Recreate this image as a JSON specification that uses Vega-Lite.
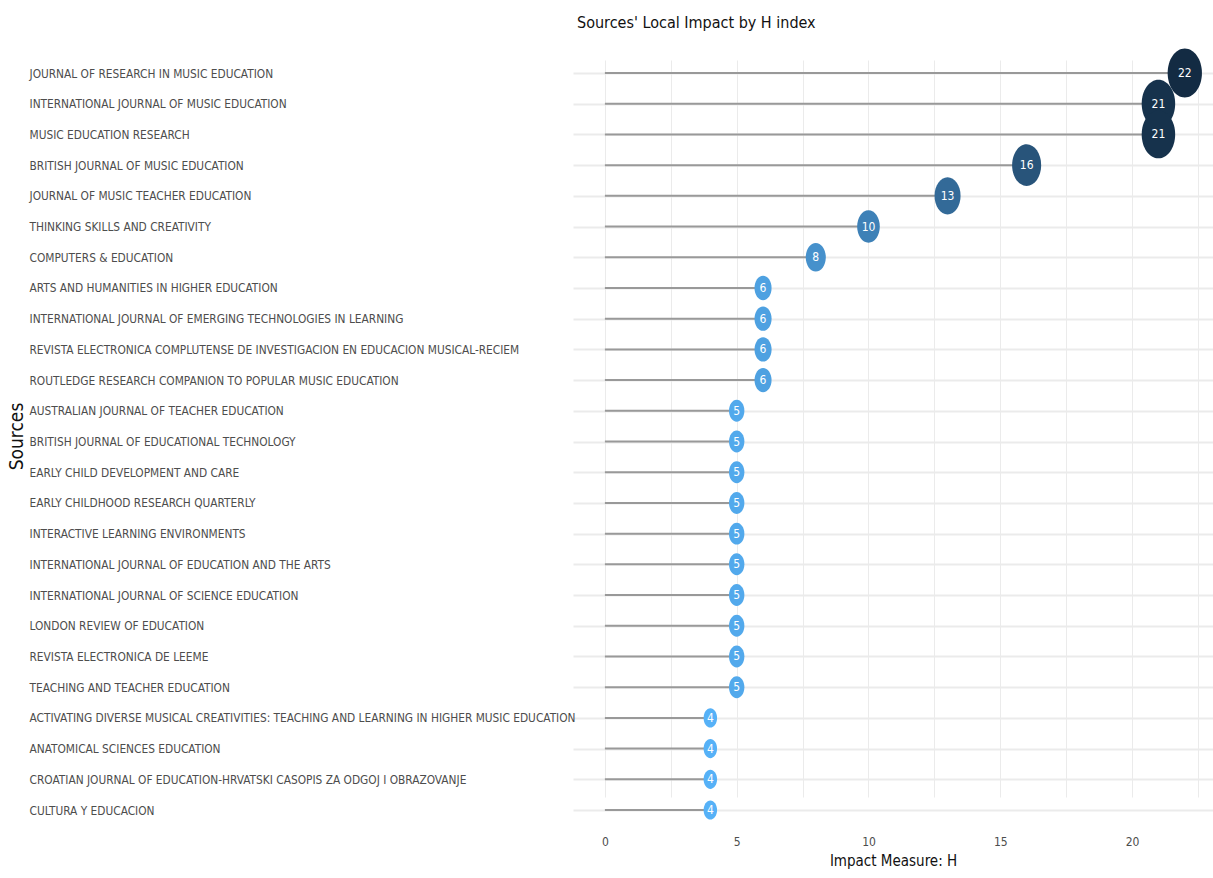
{
  "$schema": "https://vega.github.io/schema/vega-lite/v6.json",
  "autosize": "none",
  "width": 640,
  "height": 786,
  "padding": {"left": 573, "top": 42, "right": 0, "bottom": 50},
  "background": "white",
  "title": {
    "text": "Sources' Local Impact by H index",
    "anchor": "start",
    "frame": "group",
    "font": "Liberation Sans Narrow, DejaVu Sans Condensed, sans-serif",
    "fontSize": 16,
    "fontWeight": "normal",
    "color": "#111111",
    "offset": 11,
    "dx": 4
  },
  "config": {
    "view": {"stroke": null},
    "font": "Liberation Sans Narrow, DejaVu Sans Condensed, sans-serif"
  },
  "data": {
    "values": [
      {"source": "JOURNAL OF RESEARCH IN MUSIC EDUCATION", "h": 22},
      {"source": "INTERNATIONAL JOURNAL OF MUSIC EDUCATION", "h": 21},
      {"source": "MUSIC EDUCATION RESEARCH", "h": 21},
      {"source": "BRITISH JOURNAL OF MUSIC EDUCATION", "h": 16},
      {"source": "JOURNAL OF MUSIC TEACHER EDUCATION", "h": 13},
      {"source": "THINKING SKILLS AND CREATIVITY", "h": 10},
      {"source": "COMPUTERS & EDUCATION", "h": 8},
      {"source": "ARTS AND HUMANITIES IN HIGHER EDUCATION", "h": 6},
      {"source": "INTERNATIONAL JOURNAL OF EMERGING TECHNOLOGIES IN LEARNING", "h": 6},
      {"source": "REVISTA ELECTRONICA COMPLUTENSE DE INVESTIGACION EN EDUCACION MUSICAL-RECIEM", "h": 6},
      {"source": "ROUTLEDGE RESEARCH COMPANION TO POPULAR MUSIC EDUCATION", "h": 6},
      {"source": "AUSTRALIAN JOURNAL OF TEACHER EDUCATION", "h": 5},
      {"source": "BRITISH JOURNAL OF EDUCATIONAL TECHNOLOGY", "h": 5},
      {"source": "EARLY CHILD DEVELOPMENT AND CARE", "h": 5},
      {"source": "EARLY CHILDHOOD RESEARCH QUARTERLY", "h": 5},
      {"source": "INTERACTIVE LEARNING ENVIRONMENTS", "h": 5},
      {"source": "INTERNATIONAL JOURNAL OF EDUCATION AND THE ARTS", "h": 5},
      {"source": "INTERNATIONAL JOURNAL OF SCIENCE EDUCATION", "h": 5},
      {"source": "LONDON REVIEW OF EDUCATION", "h": 5},
      {"source": "REVISTA ELECTRONICA DE LEEME", "h": 5},
      {"source": "TEACHING AND TEACHER EDUCATION", "h": 5},
      {"source": "ACTIVATING DIVERSE MUSICAL CREATIVITIES: TEACHING AND LEARNING IN HIGHER MUSIC EDUCATION", "h": 4},
      {"source": "ANATOMICAL SCIENCES EDUCATION", "h": 4},
      {"source": "CROATIAN JOURNAL OF EDUCATION-HRVATSKI CASOPIS ZA ODGOJ I OBRAZOVANJE", "h": 4},
      {"source": "CULTURA Y EDUCACION", "h": 4}
    ]
  },
  "encoding": {
    "y": {
      "field": "source",
      "type": "nominal",
      "sort": null,
      "scale": {"type": "point", "range": [31, 768], "padding": 0},
      "axis": {
        "title": "Sources",
        "titleFontSize": 19,
        "titleFontWeight": "normal",
        "titleColor": "#111111",
        "titleX": -547,
        "titleY": 394,
        "labelAlign": "left",
        "labelPadding": 544,
        "labelLimit": 0,
        "labelFontSize": 11.8,
        "labelColor": "#4d4d4d",
        "ticks": false,
        "tickSize": 0,
        "domain": false,
        "grid": true,
        "gridColor": "#ebebeb",
        "gridWidth": 2
      }
    },
    "x": {
      "field": "h",
      "type": "quantitative",
      "scale": {"domain": [-1.21, 23.07], "nice": false, "zero": false},
      "axis": {
        "title": "Impact Measure: H",
        "titleFontSize": 15,
        "titleFontWeight": "normal",
        "titleColor": "#111111",
        "titlePadding": 6,
        "values": [0, 2.5, 5, 7.5, 10, 12.5, 15, 17.5, 20, 22.5],
        "labelExpr": "datum.value % 5 === 0 ? datum.label : ''",
        "labelFontSize": 12,
        "labelColor": "#4d4d4d",
        "labelPadding": 8,
        "ticks": false,
        "tickSize": 0,
        "domain": false,
        "grid": true,
        "gridColor": "#ebebeb",
        "gridWidth": 1
      }
    }
  },
  "layer": [
    {
      "mark": {"type": "rule", "color": "#999999", "strokeWidth": 2},
      "encoding": {
        "x2": {"datum": 0}
      }
    },
    {
      "mark": {
        "type": "point",
        "filled": true,
        "opacity": 1,
        "shape": "M -0.7 0 A 0.7 1 0 1 1 0.7 0 A 0.7 1 0 1 1 -0.7 0 Z"
      },
      "encoding": {
        "color": {
          "field": "h",
          "type": "quantitative",
          "scale": {"domain": [4, 22], "range": ["#56B1F7", "#132B43"], "interpolate": "lab"},
          "legend": null
        },
        "size": {
          "field": "h",
          "type": "quantitative",
          "scale": {"domain": [4, 22], "range": [370, 2400], "zero": false},
          "legend": null
        }
      }
    },
    {
      "mark": {"type": "text", "color": "white", "fontSize": 12, "baseline": "middle", "align": "center"},
      "encoding": {
        "text": {"field": "h", "type": "quantitative"}
      }
    }
  ]
}
